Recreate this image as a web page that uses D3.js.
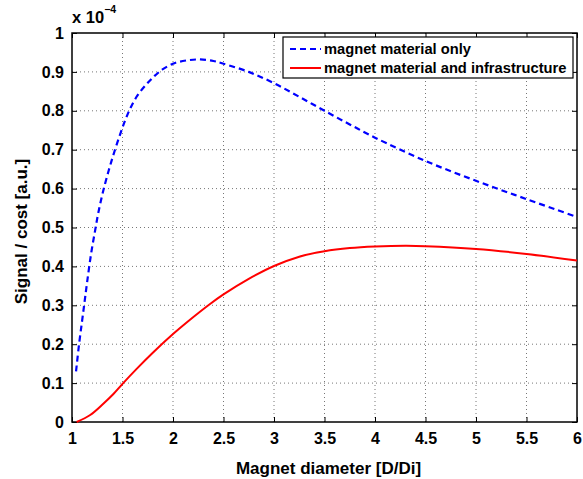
<!DOCTYPE html>
<html>
<head>
<meta charset="utf-8">
<script src="https://cdn.jsdelivr.net/npm/d3@7"></script>
<style>
    body { margin: 0; background: #fff; }
    text { font-family: "Liberation Sans", Arial, sans-serif; font-weight: bold; }
</style>
</head>
<body>
<div id="chart"></div>
<script>
const xTicks = [1, 1.5, 2, 2.5, 3, 3.5, 4, 4.5, 5, 5.5, 6];
const yTicks = [0, 0.1, 0.2, 0.3, 0.4, 0.5, 0.6, 0.7, 0.8, 0.9, 1];

const materialX = [1.04, 1.07, 1.1, 1.125, 1.15, 1.19, 1.23, 1.26, 1.31, 1.39, 1.485, 1.535, 1.584, 1.65, 1.73, 1.815, 1.9, 2.02, 2.15, 2.27, 2.4, 2.5, 2.75, 3, 3.25, 3.5, 3.75, 4, 4.5, 5, 5.5, 6];
const materialY = [0.13, 0.20, 0.26, 0.31, 0.36, 0.434, 0.494, 0.537, 0.595, 0.67, 0.746, 0.781, 0.81, 0.84, 0.866, 0.889, 0.907, 0.923, 0.93, 0.932, 0.928, 0.921, 0.90, 0.871, 0.836, 0.80, 0.765, 0.731, 0.671, 0.62, 0.573, 0.527];

const infraX = [1.046, 1.18, 1.31, 1.41, 1.5, 1.64, 1.8, 2.0, 2.15, 2.37, 2.5, 2.75, 3, 3.25, 3.5, 3.75, 4, 4.3, 4.5, 5, 5.5, 6];
const infraY = [0, 0.018, 0.047, 0.072, 0.098, 0.1365, 0.178, 0.226, 0.259, 0.304, 0.328, 0.368, 0.401, 0.425, 0.439, 0.447, 0.451, 0.453, 0.452, 0.445, 0.432, 0.415];

const seriesNames = ['magnet material only', 'magnet material and infrastructure'];

const width = 583;
const height = 479;
const margin = {top: 33, bottom: 57, left: 72, right: 6};
const w = width - margin.left - margin.right;
const h = height - margin.top - margin.bottom;

const x = d3.scaleLinear().domain([1, 6]).range([0, w]);
const y = d3.scaleLinear().domain([0, 1]).range([h, 0]);

const svg = d3.select('#chart')
    .append('svg')
    .attr('width', width)
    .attr('height', height)
    .append('g')
    .attr('transform', `translate(${margin.left},${margin.top})`);

// grid
svg.append('g')
    .selectAll('line')
    .data(xTicks.slice(1, -1))
    .enter().append('line')
    .attr('x1', d => x(d)).attr('x2', d => x(d))
    .attr('y1', 0).attr('y2', h)
    .attr('stroke', '#777')
    .attr('stroke-width', 1)
    .attr('stroke-dasharray', '1,3');

svg.append('g')
    .selectAll('line')
    .data(yTicks.slice(1, -1))
    .enter().append('line')
    .attr('x1', 0).attr('x2', w)
    .attr('y1', d => y(d)).attr('y2', d => y(d))
    .attr('stroke', '#777')
    .attr('stroke-width', 1)
    .attr('stroke-dasharray', '1,3');

// axes with inward ticks
const xAxis = d3.axisBottom(x).tickValues(xTicks).tickSize(-5).tickSizeOuter(0).tickPadding(11).tickFormat(d3.format('~g'));
const yAxis = d3.axisLeft(y).tickValues(yTicks).tickSize(-5).tickSizeOuter(0).tickPadding(8).tickFormat(d3.format('~g'));

const gx = svg.append('g').attr('transform', `translate(0,${h})`).call(xAxis);
const gy = svg.append('g').call(yAxis);
svg.append('g').call(d3.axisTop(x).tickValues(xTicks).tickSize(-5).tickSizeOuter(0).tickFormat(''));
svg.append('g').attr('transform', `translate(${w},0)`).call(d3.axisRight(y).tickValues(yTicks).tickSize(-5).tickSizeOuter(0).tickFormat(''));

svg.selectAll('.domain').remove();
svg.selectAll('.tick line').attr('stroke', '#000');
[gx, gy].forEach(g => g.selectAll('text').attr('font-size', 16).attr('fill', '#000'));

svg.append('rect')
    .attr('width', w).attr('height', h)
    .attr('fill', 'none')
    .attr('stroke', '#000')
    .attr('stroke-width', 1.5);

const line = d3.line()
    .x(d => x(d[0]))
    .y(d => y(d[1]))
    .curve(d3.curveCatmullRom);

svg.append('path')
    .datum(d3.zip(infraX, infraY))
    .attr('fill', 'none')
    .attr('stroke', '#ff0000')
    .attr('stroke-width', 2)
    .attr('d', line);

svg.append('path')
    .datum(d3.zip(materialX, materialY))
    .attr('fill', 'none')
    .attr('stroke', '#0000ff')
    .attr('stroke-width', 2.2)
    .attr('stroke-dasharray', '6,4')
    .attr('d', line);

// legend
const legend = svg.append('g').attr('transform', `translate(${211},${4})`);
legend.append('rect')
    .attr('width', 290).attr('height', 41)
    .attr('fill', '#fff')
    .attr('stroke', '#000')
    .attr('stroke-width', 1.2);

const legendStyles = [
    {color: '#0000ff', dash: '6,4'},
    {color: '#ff0000', dash: null}
];

seriesNames.forEach((name, i) => {
    const yy = 12 + i * 19;
    legend.append('line')
        .attr('x1', 7).attr('x2', 38)
        .attr('y1', yy).attr('y2', yy)
        .attr('stroke', legendStyles[i].color)
        .attr('stroke-width', 2)
        .attr('stroke-dasharray', legendStyles[i].dash);
    legend.append('text')
        .attr('x', 41).attr('y', yy)
        .attr('dy', '0.35em')
        .attr('font-size', 14.7)
        .text(name);
});

// exponent label
const expo = svg.append('text')
    .attr('x', 0).attr('y', -10)
    .attr('font-size', 16.5);
expo.append('tspan').text('x 10');
expo.append('tspan').attr('dy', -10).attr('font-size', 10.5).text('\u22124');

// axis titles
svg.append('text')
    .attr('x', w / 2 + 4).attr('y', h + 52)
    .attr('text-anchor', 'middle')
    .attr('font-size', 17)
    .text('Magnet diameter [D/Di]');

svg.append('text')
    .attr('transform', `translate(${-45},${h / 2 + 4}) rotate(-90)`)
    .attr('text-anchor', 'middle')
    .attr('font-size', 17)
    .text('Signal / cost [a.u.]');
</script>
</body>
</html>
